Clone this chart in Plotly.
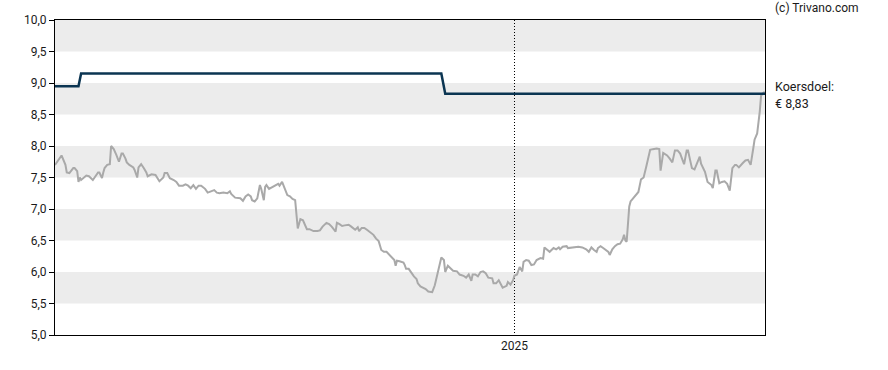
import pandas as pd
import plotly.graph_objects as go

START = "2024-01-15"
# day offsets from START and closing prices
price_day = [0, 5, 8, 9, 11, 14, 15, 17, 18, 19, 20, 22, 24, 26, 27, 29, 31, 32, 33, 34,
             36, 37, 38, 40, 42, 43, 45, 47, 49, 51, 52, 54, 55, 57, 60, 61, 63, 64, 66, 68,
             70, 71, 74, 77, 78, 80, 83, 84, 86, 88, 91, 93, 95, 98, 100, 102, 104, 106, 108, 110,
             112, 115, 117, 120, 122, 124, 126, 129, 132, 134, 135, 138, 140, 142, 144, 146, 148, 150, 151, 153,
             155, 157, 158, 160, 161, 162, 164, 167, 169, 171, 172, 174, 178, 180, 182, 184, 186, 188, 190, 192,
             193, 195, 198, 201, 203, 205, 208, 210, 212, 215, 216, 218, 220, 222, 225, 227, 230, 232, 233, 235,
             237, 239, 241, 244, 246, 248, 250, 252, 254, 256, 258, 260, 261, 262, 264, 267, 268, 269, 271, 273,
             275, 277, 278, 280, 282, 284, 286, 288, 289, 291, 294, 296, 298, 299, 301, 303, 305, 308, 310, 313,
             315, 317, 319, 320, 322, 324, 326, 328, 330, 332, 335, 336, 338, 340, 342, 343, 346, 347, 349, 351,
             352, 354, 356, 358, 359, 361, 363, 365, 367, 369, 372, 374, 375, 377, 379, 382, 384, 386, 387, 389,
             392, 393, 396, 398, 401, 404, 405, 407, 409, 411, 413, 415, 416, 418, 420, 422, 424, 425, 427, 429,
             431, 433, 435, 436, 437, 438, 440, 441, 443, 445, 447, 449, 451, 453, 455, 456, 458, 461, 463, 464,
             466, 469, 471, 473, 475, 477, 479, 481, 482, 484, 485, 487, 488, 490, 492, 494, 495, 498, 500, 502,
             503, 504, 506, 507, 509, 511, 513, 515, 516, 517, 519, 521, 522, 524, 527, 529, 531, 533, 535, 536,
             538, 539, 540, 541, 543, 544]
price = [7.70, 7.85, 7.70, 7.58, 7.57, 7.65, 7.65, 7.60, 7.43, 7.50, 7.46, 7.50, 7.53, 7.52, 7.50, 7.46, 7.52, 7.55, 7.58, 7.58,
         7.49, 7.58, 7.65, 7.70, 7.71, 8.00, 7.95, 7.86, 7.75, 7.88, 7.88, 7.80, 7.74, 7.70, 7.66, 7.62, 7.50, 7.66, 7.71, 7.65,
         7.58, 7.52, 7.55, 7.54, 7.50, 7.44, 7.50, 7.57, 7.57, 7.49, 7.46, 7.43, 7.37, 7.37, 7.39, 7.37, 7.33, 7.38, 7.32, 7.37,
         7.37, 7.32, 7.26, 7.29, 7.30, 7.26, 7.25, 7.26, 7.25, 7.28, 7.24, 7.18, 7.18, 7.17, 7.13, 7.20, 7.23, 7.20, 7.14, 7.12,
         7.17, 7.38, 7.32, 7.14, 7.35, 7.38, 7.32, 7.35, 7.37, 7.40, 7.37, 7.43, 7.22, 7.20, 7.16, 7.14, 6.69, 6.84, 6.82, 6.73,
         6.68, 6.68, 6.65, 6.65, 6.66, 6.72, 6.78, 6.76, 6.72, 6.64, 6.78, 6.76, 6.73, 6.74, 6.75, 6.72, 6.67, 6.71, 6.65, 6.70,
         6.70, 6.67, 6.64, 6.59, 6.53, 6.49, 6.35, 6.32, 6.32, 6.28, 6.24, 6.19, 6.10, 6.18, 6.17, 6.15, 6.11, 6.05, 6.05, 5.98,
         5.93, 5.89, 5.82, 5.77, 5.75, 5.73, 5.69, 5.69, 5.68, 5.79, 6.03, 6.23, 6.19, 6.00, 6.10, 6.06, 6.02, 6.01, 5.96, 5.94,
         5.91, 5.96, 5.86, 5.96, 5.96, 5.93, 6.00, 6.01, 5.98, 5.91, 5.90, 5.82, 5.82, 5.87, 5.80, 5.75, 5.78, 5.84, 5.80, 5.87,
         5.94, 5.96, 6.08, 6.01, 6.16, 6.19, 6.18, 6.11, 6.12, 6.19, 6.22, 6.21, 6.39, 6.35, 6.32, 6.38, 6.36, 6.39, 6.36, 6.40,
         6.41, 6.38, 6.39, 6.39, 6.40, 6.39, 6.38, 6.36, 6.32, 6.39, 6.35, 6.32, 6.38, 6.41, 6.38, 6.35, 6.32, 6.27, 6.36, 6.41,
         6.44, 6.45, 6.52, 6.59, 6.50, 6.48, 7.04, 7.12, 7.17, 7.22, 7.27, 7.47, 7.50, 7.67, 7.87, 7.94, 7.95, 7.96, 7.95, 7.61,
         7.89, 7.85, 7.80, 7.74, 7.93, 7.93, 7.88, 7.78, 7.71, 7.93, 7.93, 7.74, 7.65, 7.63, 7.74, 7.83, 7.72, 7.59, 7.43, 7.40,
         7.38, 7.33, 7.61, 7.61, 7.41, 7.43, 7.44, 7.40, 7.35, 7.29, 7.65, 7.70, 7.70, 7.66, 7.73, 7.77, 7.78, 7.70, 7.96, 8.10,
         8.20, 8.35, 8.55, 8.80, 8.85, 8.85]

target_day = [0, 18, 20, 296, 299, 544]
target = [8.95, 8.95, 9.15, 9.15, 8.83, 8.83]

y_ticks = [5.0, 5.5, 6.0, 6.5, 7.0, 7.5, 8.0, 8.5, 9.0, 9.5, 10.0]
bands = [(5.5, 6.0), (6.5, 7.0), (7.5, 8.0), (8.5, 9.0), (9.5, 10.0)]
year_tick = "2025-01-01"
year_label = "2025"
target_label = "€ 8,83"

start = pd.Timestamp(START)
px = start + pd.to_timedelta(price_day, unit="D")
tx = start + pd.to_timedelta(target_day, unit="D")

fig = go.Figure()
fig.add_trace(go.Scatter(x=px, y=price, mode="lines",
                         line=dict(color="#a9a9a9", width=2), hoverinfo="skip"))
fig.add_trace(go.Scatter(x=tx, y=target, mode="lines",
                         line=dict(color="#0b3552", width=2.5), hoverinfo="skip"))

for lo, hi in bands:
    fig.add_shape(type="rect", xref="paper", yref="y", x0=0, x1=1, y0=lo, y1=hi,
                  fillcolor="#ececec", line=dict(width=0), layer="below")

font = "Roboto, Arial, sans-serif"
fig.update_layout(
    width=888, height=370,
    margin=dict(l=55, r=123, t=20, b=35, autoexpand=False),
    paper_bgcolor="white", plot_bgcolor="white",
    showlegend=False,
    separators=",.",
    font=dict(family=font, size=12, color="#1a1a1a"),
    xaxis=dict(type="date", range=[px[0], px[-1]], automargin=False,
               tickvals=[year_tick], ticktext=[year_label], ticks="",
               showgrid=True, gridcolor="#000000", gridwidth=1, griddash="1px,2px",
               showline=True, linecolor="#000000", linewidth=1, mirror=True,
               zeroline=False, tickfont=dict(size=12, color="#1a1a1a")),
    yaxis=dict(range=[5, 10], tickvals=y_ticks, tickformat=".1f", automargin=False,
               ticks="outside", ticklen=5, tickcolor="#000000",
               showgrid=False, zeroline=False,
               showline=True, linecolor="#000000", linewidth=1, mirror=True,
               tickfont=dict(size=12, color="#1a1a1a")),
)

fig.add_annotation(text="(c) Trivano.com", xref="paper", yref="paper", x=1, y=1.038,
                   xshift=8, xanchor="left", yanchor="middle", showarrow=False,
                   font=dict(size=12, color="#1a1a1a"))
fig.add_annotation(text="Koersdoel:", xref="paper", yref="y", x=1, y=8.95,
                   xshift=8, xanchor="left", yanchor="middle", showarrow=False,
                   font=dict(size=12.5, color="#1a1a1a"))
fig.add_annotation(text=target_label, xref="paper", yref="y", x=1, y=8.68,
                   xshift=8, xanchor="left", yanchor="middle", showarrow=False,
                   font=dict(size=12.5, color="#1a1a1a"))

fig.write_html("out.html", config={"displayModeBar": False, "staticPlot": True},
               post_script="document.body.style.margin='0';document.body.style.overflow='hidden';")
